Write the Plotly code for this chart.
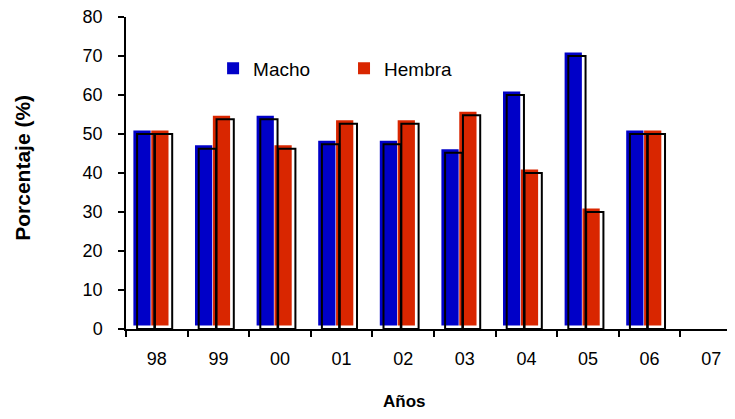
import plotly.graph_objects as go

# data
anios = ["98", "99", "00", "01", "02", "03", "04", "05", "06", "07"]
macho = [50, 46.2, 53.8, 47.4, 47.4, 45.2, 60, 70, 50, None]
hembra = [50, 53.8, 46.2, 52.6, 52.6, 54.8, 40, 30, 50, None]

FONT = "Liberation Sans, Arial, sans-serif"
W = 0.28       # bar width in category units
SHIFT = 0.06   # shadow outline shift to the right
LIFT = 0.9     # colored bars raised above the outline

fig = go.Figure()

# colored bars (slightly raised / shifted left, as in the Excel shadow look)
fig.add_trace(go.Bar(x=anios, y=macho, base=LIFT, name="Macho", width=W, offset=-0.38,
                     legend="legend", marker=dict(color="#0000C8", line=dict(width=0))))
fig.add_trace(go.Bar(x=anios, y=hembra, base=LIFT, name="Hembra", width=W, offset=-0.09,
                     legend="legend2", marker=dict(color="#D92600", line=dict(width=0))))

# black outlines sitting on the axis
for vals in (macho, hembra):
    off = -0.38 + SHIFT if vals is macho else -0.09 + SHIFT
    fig.add_trace(go.Bar(x=anios, y=vals, width=W, offset=off, showlegend=False,
                         hoverinfo="skip",
                         marker=dict(color="rgba(0,0,0,0)", line=dict(color="black", width=2))))

leg = dict(orientation="h", y=0.835, xanchor="left", yanchor="middle",
           bgcolor="rgba(0,0,0,0)", font=dict(size=19))

# page body adds an 8px margin, so the plot area is placed 8px up/left
fig.update_layout(
    width=735, height=419,
    margin=dict(l=118, r=8, t=9, b=98),
    plot_bgcolor="white", paper_bgcolor="white",
    barmode="overlay",
    font=dict(family=FONT, size=18, color="black"),
    showlegend=True,
    legend=dict(leg, x=0.143),
    legend2=dict(leg, x=0.358),
    xaxis=dict(type="category", categoryorder="array", categoryarray=anios,
               range=[-0.5, 9.386], tickson="boundaries", ticks="outside", ticklen=6,
               tickwidth=1.5, tickcolor="black", showline=True, linecolor="black",
               linewidth=1.5, showgrid=False, ticklabelstandoff=13, automargin=False),
    yaxis=dict(range=[0, 80], dtick=10, ticks="outside", ticklen=6, tickwidth=1.5,
               tickcolor="black", showline=True, linecolor="black", linewidth=1.5,
               showgrid=False, zeroline=False, ticklabelstandoff=12,
               ticklabeloverflow="allow", automargin=False),
    annotations=[
        dict(text="<b>Porcentaje (%)</b>", xref="paper", yref="paper", x=-0.169, y=0.517,
             textangle=-90, showarrow=False, xanchor="center", yanchor="middle",
             font=dict(size=21)),
        dict(text="<b>Años</b>", xref="paper", yref="paper", x=0.458, y=-0.231,
             showarrow=False, xanchor="center", yanchor="middle", font=dict(size=17)),
    ],
)

fig.write_html("out.html")
